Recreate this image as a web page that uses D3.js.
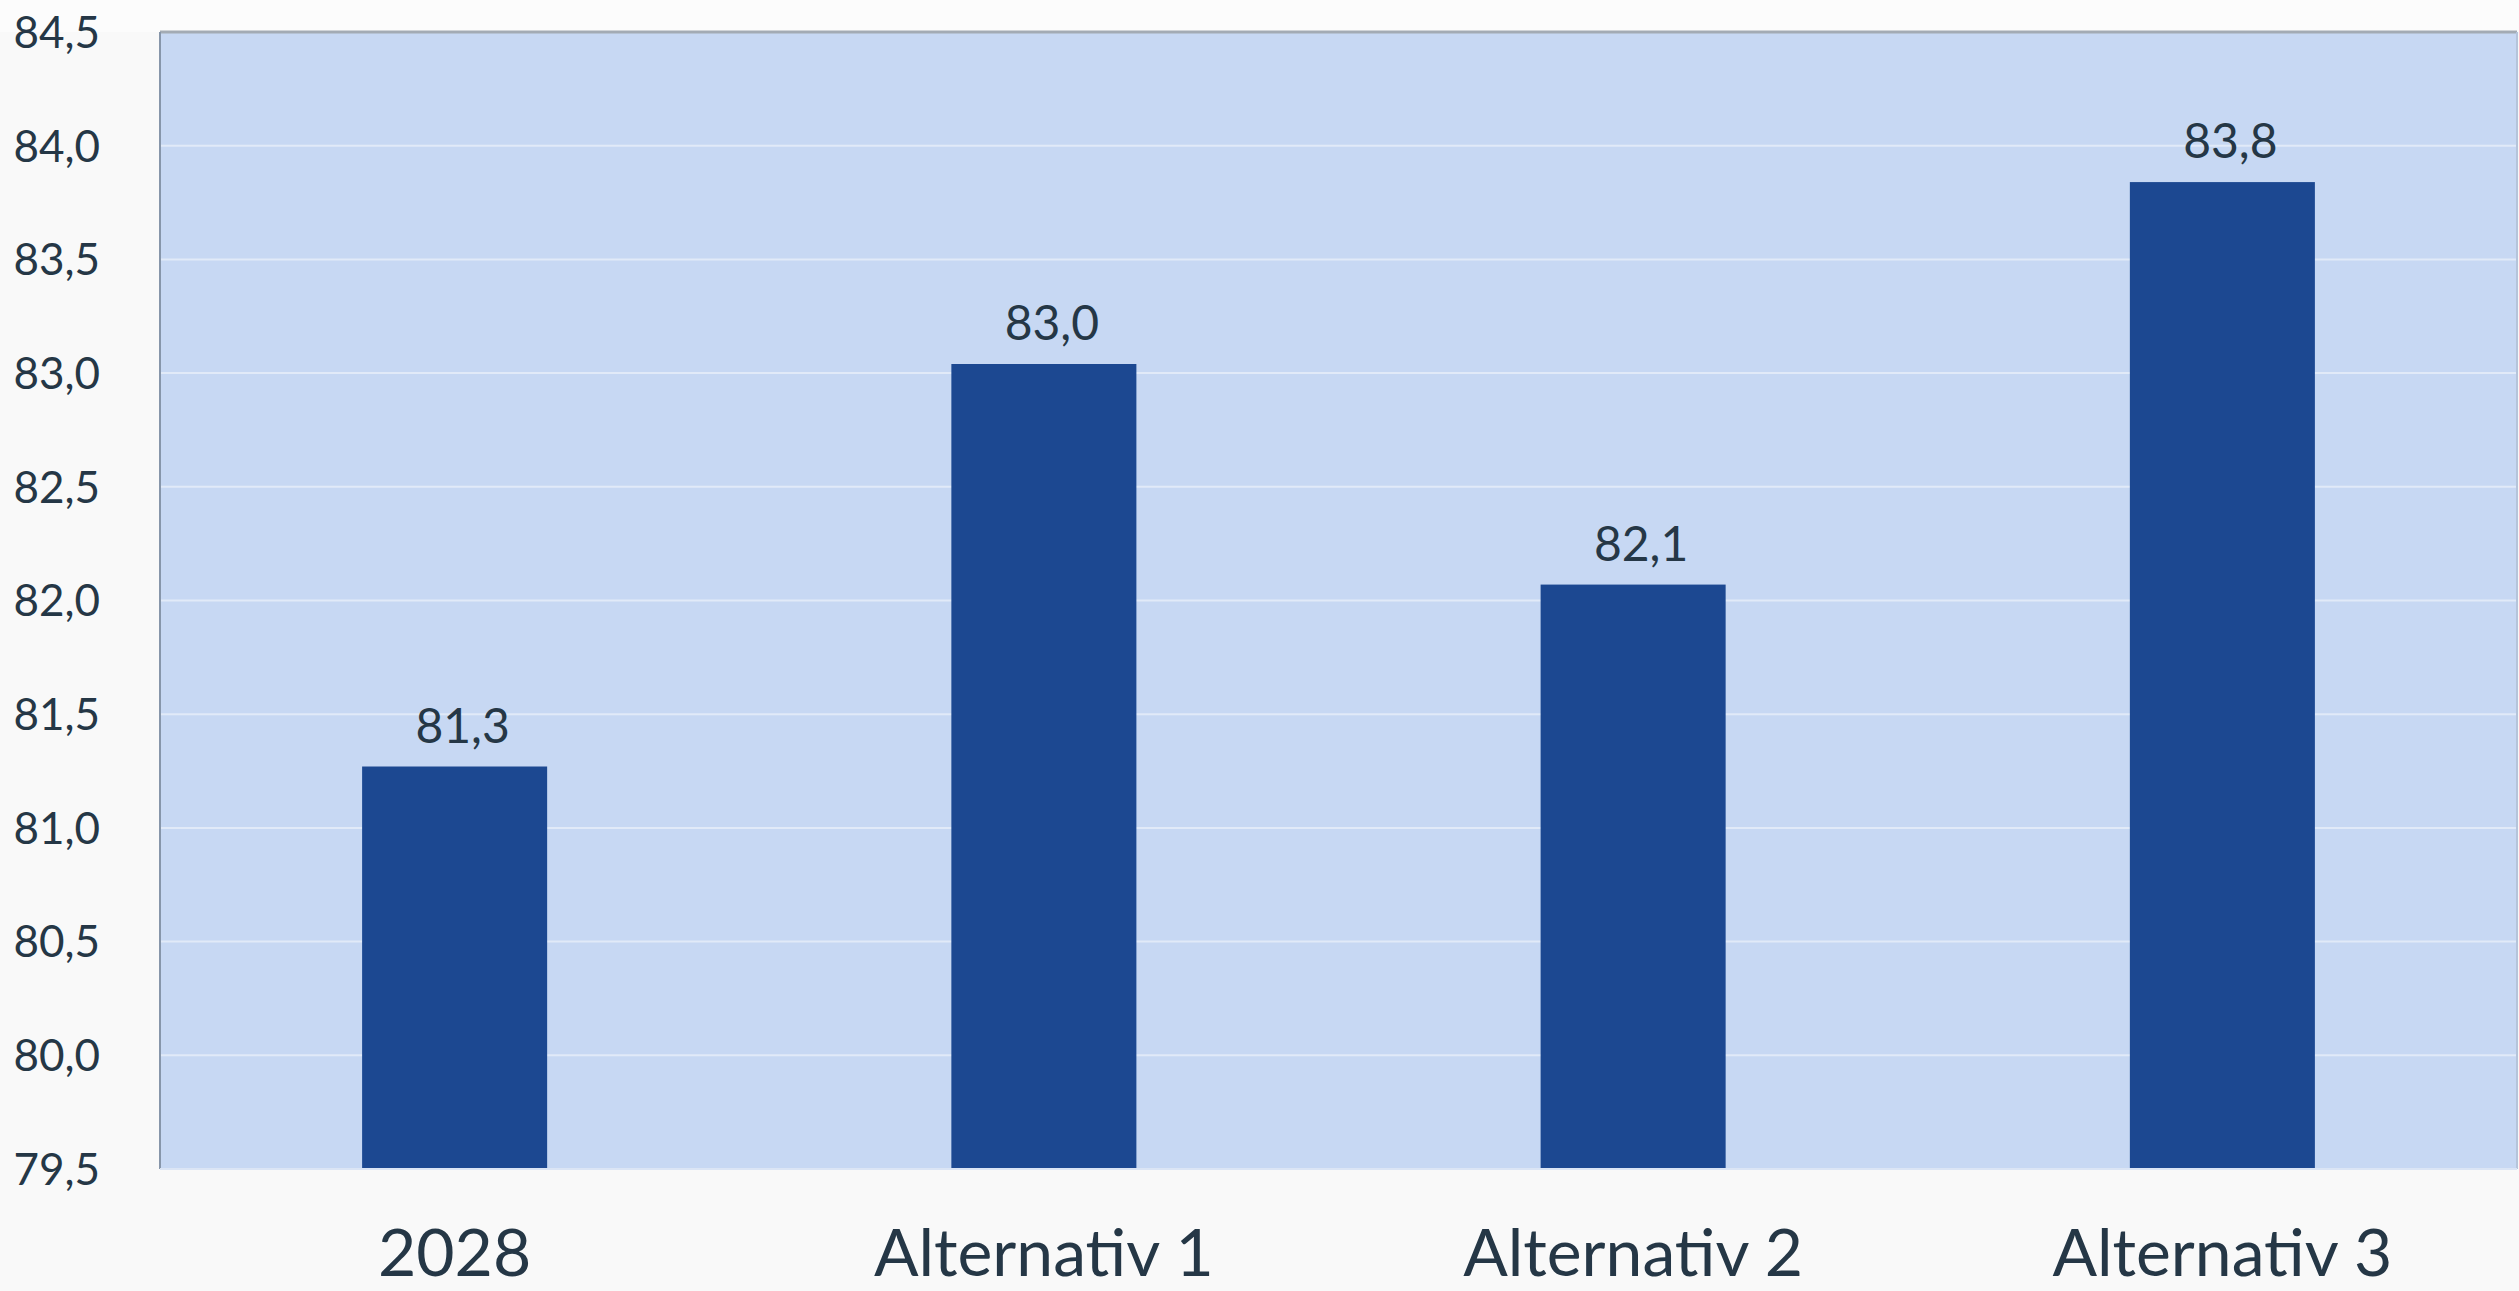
<!DOCTYPE html>
<html>
<head>
<meta charset="utf-8">
<script src="https://cdn.jsdelivr.net/npm/d3@7"></script>
<style>
  body { margin: 0; background: #f9f9f9; }
  text { font-family: Lato, "Noto Sans", sans-serif; fill: #253746; }
</style>
</head>
<body>
<div id="chart"></div>
<script>
var w = 2519, h = 1291;

// data
var categories = ["2028", "Alternativ 1", "Alternativ 2", "Alternativ 3"];
var values = [81.27, 83.04, 82.07, 83.84];
var yTicks = [79.5, 80.0, 80.5, 81.0, 81.5, 82.0, 82.5, 83.0, 83.5, 84.0, 84.5];

var plotLeft = 160, plotRight = 2517, plotTop = 32, plotBottom = 1169;

var no = d3.formatLocale({decimal: ",", thousands: " ", grouping: [3], currency: ["", " kr"]});
var fmt = no.format(".1f");

var svg = d3.select("#chart")
  .append("svg")
  .attr("width", w)
  .attr("height", h);

// white strip above the plot
svg.append("rect")
  .attr("x", 0).attr("y", 0)
  .attr("width", w).attr("height", plotTop)
  .style("fill", "#fcfcfc");

var x = d3.scaleBand()
  .domain(categories)
  .range([plotLeft, plotRight])
  .paddingInner(0.686)
  .paddingOuter(0.343);

var y = d3.scaleLinear()
  .domain([79.5, 84.5])
  .range([plotBottom, plotTop]);

// plot area
svg.append("rect")
  .attr("x", plotLeft).attr("y", plotTop)
  .attr("width", plotRight - plotLeft).attr("height", plotBottom - plotTop)
  .style("fill", "#c7d8f3");

// gridlines
svg.append("g")
  .selectAll("line")
  .data(yTicks.slice(1, -1))
  .enter()
  .append("line")
  .attr("x1", plotLeft).attr("x2", plotRight)
  .attr("y1", function(d) { return y(d); })
  .attr("y2", function(d) { return y(d); })
  .style("stroke", "#e1eaf8")
  .style("stroke-width", 2);

// y tick labels
svg.append("g")
  .selectAll("text")
  .data(yTicks)
  .enter()
  .append("text")
  .attr("x", 100)
  .attr("y", function(d) { return y(d); })
  .attr("dy", "0.36em")
  .attr("text-anchor", "end")
  .style("font-size", "44px")
  .text(function(d) { return fmt(d); });

// bars
svg.append("g")
  .selectAll("rect")
  .data(values)
  .enter()
  .append("rect")
  .attr("x", function(d, i) { return x(categories[i]); })
  .attr("y", function(d) { return y(d); })
  .attr("width", x.bandwidth())
  .attr("height", function(d) { return y(79.5) - y(d); })
  .style("fill", "#1c4891");

// value labels
svg.append("g")
  .selectAll("text")
  .data(values)
  .enter()
  .append("text")
  .attr("x", function(d, i) { return x(categories[i]) + x.bandwidth() / 2 + 8; })
  .attr("y", function(d) { return y(d) - 24; })
  .attr("text-anchor", "middle")
  .style("font-size", "48px")
  .text(function(d) { return fmt(d); });

// frame lines
svg.append("line")
  .attr("x1", plotLeft).attr("x2", plotRight)
  .attr("y1", plotTop).attr("y2", plotTop)
  .style("stroke", "#a3abb4").style("stroke-width", 3);
svg.append("line")
  .attr("x1", plotLeft).attr("x2", plotLeft)
  .attr("y1", plotTop).attr("y2", plotBottom)
  .style("stroke", "#8796aa").style("stroke-width", 2);
svg.append("line")
  .attr("x1", plotRight).attr("x2", plotRight)
  .attr("y1", plotTop).attr("y2", plotBottom)
  .style("stroke", "#b5c4da").style("stroke-width", 2);
svg.append("line")
  .attr("x1", plotLeft).attr("x2", plotRight)
  .attr("y1", plotBottom).attr("y2", plotBottom)
  .style("stroke", "#dbe5f5").style("stroke-width", 2);

// category labels
svg.append("g")
  .selectAll("text")
  .data(categories)
  .enter()
  .append("text")
  .attr("x", function(d) { return x(d) + x.bandwidth() / 2; })
  .attr("y", 1276)
  .attr("text-anchor", "middle")
  .style("font-size", "66px")
  .text(function(d) { return d; });
</script>
</body>
</html>
